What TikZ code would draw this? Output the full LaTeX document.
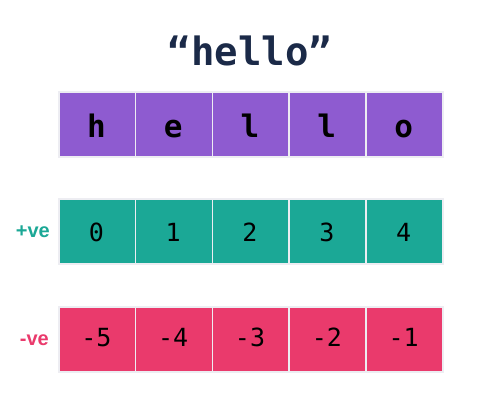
\documentclass[tikz,border=0pt]{standalone}
\usepackage{fontspec}
\setmainfont{Liberation Sans}
\newfontfamily\monof{DejaVu Sans Mono}
\definecolor{cpurple}{HTML}{8E5BD0}
\definecolor{cteal}{HTML}{1BA896}
\definecolor{cpink}{HTML}{EA3A6C}
\definecolor{cnavy}{HTML}{1B2A48}
\definecolor{cedge}{HTML}{EDEDF2}
\tikzset{
  cell/.style={draw=cedge, line width=1.6pt, minimum width=76.8pt, minimum height=65pt, inner sep=0pt, anchor=north west},
  lettercell/.style={cell, fill=cpurple},
  poscell/.style={cell, fill=cteal},
  negcell/.style={cell, fill=cpink},
  celltext/.style={inner sep=0pt, anchor=base, text=black},
  lettertext/.style={celltext, font=\monof\bfseries\fontsize{31}{31}\selectfont},
  digittext/.style={celltext, font=\monof\fontsize{25}{25}\selectfont},
  rowlabel/.style={font=\bfseries\fontsize{20}{20}\selectfont, inner sep=0pt, anchor=east}
}
\begin{document}
\begin{tikzpicture}[x=1pt,y=-1pt]
\useasboundingbox[fill=white] (0,0) rectangle (500,408);
\node[font=\monof\bfseries\fontsize{39}{39}\selectfont, text=cnavy, inner sep=0pt, anchor=base] (title) at (250,65) {“hello”};
\foreach \t [count=\i from 0] in {h,e,l,l,o}{
  \node[lettercell] (l\i) at (58+76.8*\i,91) {};
  \node[lettertext] (lt\i) at (96.4+76.8*\i,137) {\t};
}
\foreach \t [count=\i from 0] in {0,1,2,3,4}{
  \node[poscell] (p\i) at (58+76.8*\i,198) {};
  \node[digittext] (pt\i) at (96.4+76.8*\i,241.5) {\t};
}
\foreach \t [count=\i from 0] in {-5,-4,-3,-2,-1}{
  \node[negcell] (n\i) at (58+76.8*\i,306) {};
  \node[digittext] (nt\i) at (96.4+76.8*\i,346.5) {\t};
}
\node[rowlabel, text=cteal] (pos) at (50,232) {+ve};
\node[rowlabel, text=cpink] (neg) at (49,340) {-ve};
\end{tikzpicture}
\end{document}
